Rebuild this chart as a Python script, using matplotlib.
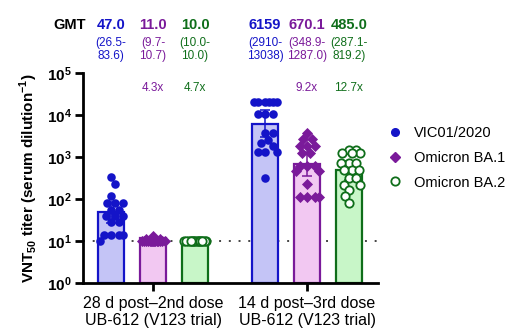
import matplotlib
matplotlib.use("Agg")
import matplotlib.pyplot as plt
import matplotlib.transforms as mtransforms
from matplotlib.lines import Line2D
import numpy as np

plt.rcParams['font.family'] = ['Liberation Sans', 'DejaVu Sans']
plt.rcParams['mathtext.fontset'] = 'custom'
plt.rcParams['mathtext.rm'] = 'Liberation Sans'
plt.rcParams['mathtext.bf'] = 'Liberation Sans:bold'

# --- data ---
groups = ["28 d post\u20132nd dose\nUB-612 (V123 trial)",
          "14 d post\u20133rd dose\nUB-612 (V123 trial)"]
variants = ["VIC01/2020", "Omicron BA.1", "Omicron BA.2"]

vic_d2 = [330, 230, 115, 80, 80, 80, 55, 55, 40, 40, 40, 28, 28, 14, 14, 14, 14, 10]
ba1_d2 = [13, 11, 11, 10, 10, 10, 10, 10, 10, 10, 10, 10, 10, 10, 10, 10, 10, 10]
ba2_d2 = [10] * 18
vic_d3 = [20480] * 6 + [10240] * 3 + [3700, 3700, 2500, 2150, 1800, 1300, 1300, 1300, 320]
ba1_d3 = [3800, 2700, 2700, 1820, 1820, 1820, 1230, 1230, 610, 610, 610, 450, 450,
          225, 113, 113, 113, 113]
ba2_d3 = [1500, 1500, 1230, 1230, 1230, 700, 700, 700, 480, 480, 480, 310, 310,
          220, 220, 160, 115, 80]

gmt = [47.0, 11.0, 10.0, 6159, 670.1, 485.0]
gmt_txt = ["47.0", "11.0", "10.0", "6159", "670.1", "485.0"]
ci_low = [26.5, 9.7, 10.0, 2910, 348.9, 287.1]
ci_high = [83.6, 10.7, 10.0, 13038, 1287.0, 819.2]
ci_txt = ["(26.5-\n83.6)", "(9.7-\n10.7)", "(10.0-\n10.0)",
          "(2910-\n13038)", "(348.9-\n1287.0)", "(287.1-\n819.2)"]
fold_txt = ["", "4.3x", "4.7x", "", "9.2x", "12.7x"]
lod = 10

series = [vic_d2, ba1_d2, ba2_d2, vic_d3, ba1_d3, ba2_d3]

# --- style ---
dark = ["#1414c8", "#7a1a9a", "#0f6e1a"]
light = ["#c4c4f6", "#f2c8f2", "#c8f6c8"]
markers = ["o", "D", "o"]
pos = [0, 1, 2, 3.67, 4.67, 5.67]
tick_pos = [1, 4.67]


def swarm(vals, diam=7.5, limit=11.5, ppd=42.0):
    ys = np.log10(vals) * ppd
    order = np.argsort(-ys, kind="stable")
    steps = np.arange(0.5, limit + 0.01, 0.5)
    cands = np.concatenate([[0], np.ravel(np.column_stack([steps, -steps]))])
    placed = []
    offs = np.zeros(len(vals))
    for i in order:
        best, best_d = 0.0, -1.0
        for c in cands:
            d = min([np.hypot(c - px, ys[i] - py) for px, py in placed], default=1e9)
            if d >= diam:
                best = c
                break
            if d > best_d:
                best, best_d = c, d
        offs[i] = best
        placed.append((best, ys[i]))
    return offs / ppd


fig = plt.figure(figsize=(5.22, 3.36), dpi=100)
ax = fig.add_axes([0.159, 0.158, 0.565, 0.625])

for k, (x, vals) in enumerate(zip(pos, series)):
    c = k % 3
    ax.bar(x, gmt[k], width=0.63, bottom=1, color=light[c], edgecolor=dark[c],
           linewidth=1.6, zorder=2)
    lo = max(gmt[k] - ci_low[k], 0)
    hi = max(ci_high[k] - gmt[k], 0)
    ax.errorbar(x, gmt[k], yerr=[[lo], [hi]],
                color=dark[c], capsize=3.5, elinewidth=1.1, capthick=1.1, zorder=3)
    xs = x + swarm(vals)
    if c == 2:
        ax.scatter(xs, vals, s=36, marker="o", facecolor="white", edgecolor=dark[c],
                   linewidth=1.3, zorder=4)
    else:
        ax.scatter(xs, vals, s=38 if c == 0 else 32, marker=markers[c],
                   color=dark[c], linewidth=0, zorder=4)

ax.axhline(lod, color="#444444", linestyle=(0, (1, 4)), linewidth=1.4, zorder=1)

ax.set_yscale("log")
ax.set_ylim(1, 1e5)
ax.set_xlim(-0.67, 6.36)
ax.set_yticks([1, 10, 100, 1e3, 1e4, 1e5])
ax.set_yticklabels([r"$\mathbf{10^{%d}}$" % i for i in range(6)], fontsize=11)
ax.minorticks_off()
ax.set_xticks(tick_pos)
ax.set_xticklabels(groups, fontsize=11.5, linespacing=1.15)
ax.tick_params(axis="both", width=2, length=6, color="black")
ax.tick_params(axis="y", pad=2)
for s in ["top", "right"]:
    ax.spines[s].set_visible(False)
for s in ["left", "bottom"]:
    ax.spines[s].set_linewidth(2)
ax.set_ylabel(r"VNT$_{\mathbf{50}}$ titer (serum dilution$^{\mathbf{-1}}$)",
              fontsize=11, fontweight="bold", labelpad=5)

# header annotations
tr = mtransforms.blended_transform_factory(ax.transData, fig.transFigure)
fig.text(70 / 522, 0.926, "GMT", fontsize=10.5, fontweight="bold", ha="center", va="center")
for k, x in enumerate(pos):
    c = k % 3
    ax.text(x, 0.926, gmt_txt[k], transform=tr, fontsize=10.5, fontweight="bold",
            color=dark[c], ha="center", va="center")
    ax.text(x, 0.853, ci_txt[k], transform=tr, fontsize=8.5, color=dark[c],
            ha="center", va="center", linespacing=1.05)
    if fold_txt[k]:
        ax.text(x, 0.738, fold_txt[k], transform=tr, fontsize=8.5, color=dark[c],
                ha="center", va="center")

handles = [
    Line2D([], [], marker="o", linestyle="none", color=dark[0], markersize=5.5),
    Line2D([], [], marker="D", linestyle="none", color=dark[1], markersize=5.5),
    Line2D([], [], marker="o", linestyle="none", markerfacecolor="white",
           markeredgecolor=dark[2], markeredgewidth=1.3, markersize=6),
]
fig.legend(handles, variants, loc="upper left", bbox_to_anchor=(0.718, 0.665),
           frameon=False, fontsize=10.5, handletextpad=0.8, labelspacing=0.75,
           handlelength=1.0)

fig.savefig("out.png", dpi=100)
